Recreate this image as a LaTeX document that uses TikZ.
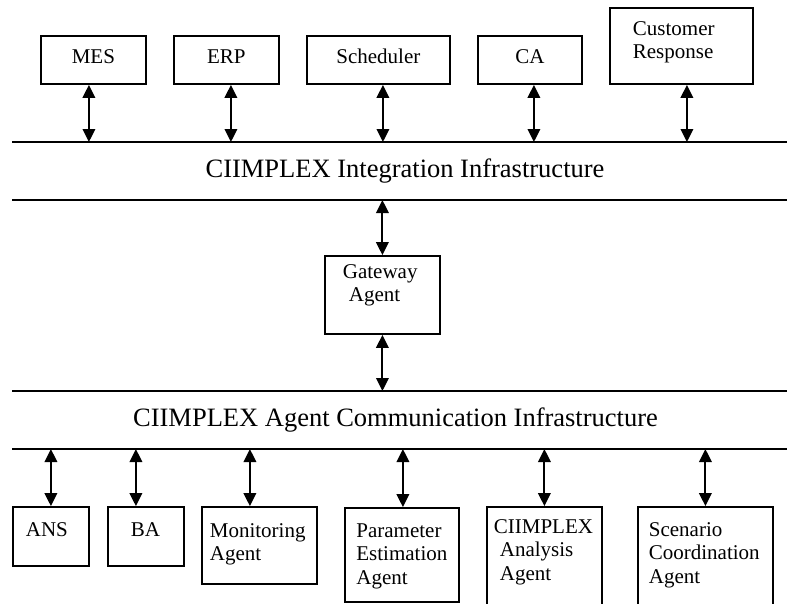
\documentclass[tikz,border=0pt]{standalone}
\usepackage{fontspec}
\setmainfont{Liberation Serif}
\usetikzlibrary{arrows.meta}
\tikzset{
	box/.style={draw,line width=1.8pt,inner ysep=0pt,anchor=base west,font=\fontsize{21}{23.5}\selectfont},
	lbox/.style={box,align=left},
	cbox/.style={box,align=center,inner xsep=4pt,text height=27pt,text depth=21pt},
	bus/.style={line width=2pt},
	buslabel/.style={anchor=base,font=\fontsize{26.5}{30}\selectfont},
	dbl/.style={{Triangle[width=12.5pt,length=13pt]}-{Triangle[width=12.5pt,length=13pt]},line width=1.9pt}
}
\begin{document}
\begin{tikzpicture}[x=1pt,y=-1pt]
	\useasboundingbox (0,0) rectangle (787,603);
	\clip (0,0) rectangle (787,603);

	% the two infrastructures
	\coordinate (r) at (787,0);
	\coordinate (itop) at (12,142);
	\coordinate (ibot) at (12,200);
	\coordinate (atop) at (12,391);
	\coordinate (abot) at (12,449);
	\foreach \c in {itop,ibot,atop,abot}
		\draw[bus] (\c) -- (\c -| r);
	\node[buslabel] (ii) at (405,177) {CIIMPLEX Integration Infrastructure};
	\node[buslabel] (aci) at (395.5,426) {CIIMPLEX Agent Communication Infrastructure};

	% applications
	\node[cbox,text width=97pt] (mes) at (40,63) {MES};
	\node[cbox,text width=97pt] (erp) at (173,63) {ERP};
	\node[cbox,text width=135pt] (sch) at (306,63) {Scheduler};
	\node[cbox,text width=96pt] (ca) at (477,63) {CA};
	\node[lbox,inner xsep=23pt,text width=97pt,text height=27pt,text depth=49pt] (cr) at (609,35) {Customer\\Response};

	% gateway
	\node[lbox,inner xsep=18pt,text width=79pt,text height=22pt,text depth=56pt] (gw) at (324,278) {Gateway\\\hspace*{6pt}Agent};

	% agents
	\node[lbox,inner xsep=13pt,text width=50pt,text height=29pt,text depth=30pt] (ans) at (12,536) {ANS};
	\node[lbox,inner xsep=23pt,text width=30pt,text height=29pt,text depth=30pt] (ba) at (107,536) {BA};
	\node[lbox,inner xsep=8pt,text width=99pt,text height=30pt,text depth=47pt] (mon) at (201,537) {Monitoring\\Agent};
	\node[lbox,inner xsep=11.5pt,text width=91pt,text height=29pt,text depth=65pt] (par) at (344,537) {Parameter\\Estimation\\Agent};
	\node[lbox,inner xsep=7pt,text width=101pt,text height=26pt,text depth=82pt] (ana) at (486,533) {CIIMPLEX\\\hspace*{6pt}Analysis\\\hspace*{6pt}Agent};
	\node[lbox,inner xsep=11pt,text width=113pt,text height=29pt,text depth=79pt] (sce) at (637,536) {Scenario\\Coordination\\Agent};

	% links
	\foreach \n/\dx in {mes/-4.5,erp/4.5,sch/4.5,ca/4,cr/5.5}
		\draw[dbl] ([xshift=\dx pt]\n.south) coordinate (t) -- (t |- itop);
	\draw[dbl] (gw.north) -- (gw.north |- ibot);
	\draw[dbl] (gw.south) -- (gw.south |- atop);
	\foreach \n/\dx in {ans/0,ba/-10,mon/-9.5,par/1,ana/0,sce/0}
		\draw[dbl] ([xshift=\dx pt]\n.north) coordinate (t) -- (t |- abot);
\end{tikzpicture}
\end{document}
